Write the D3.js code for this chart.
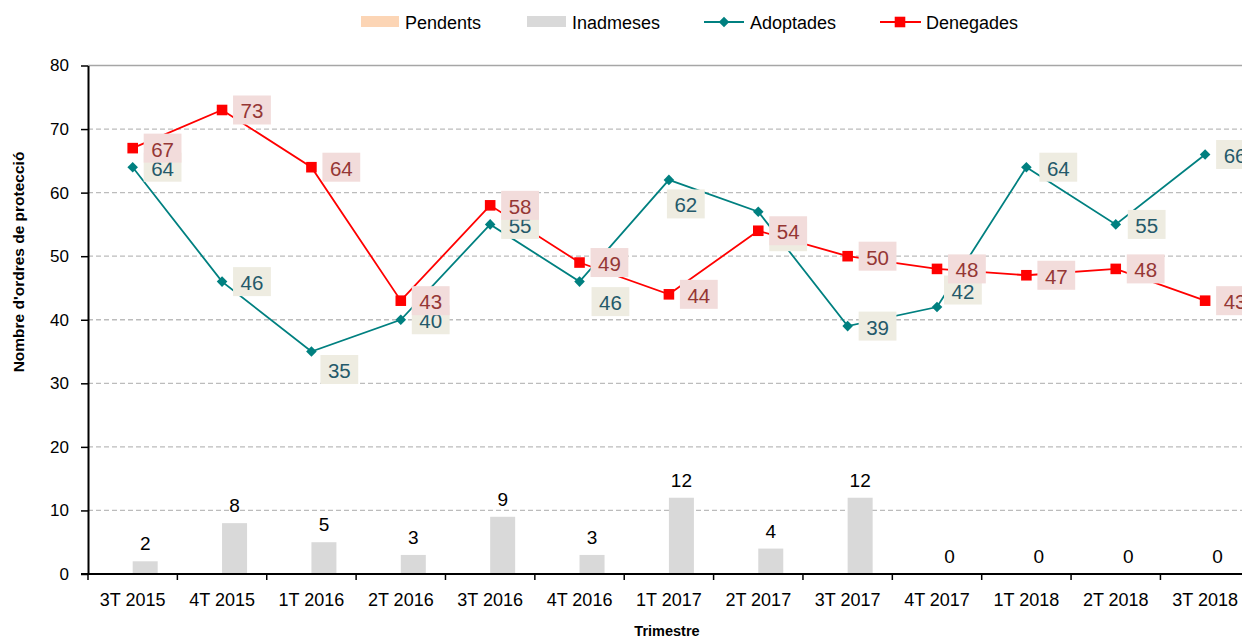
<!DOCTYPE html>
<html>
<head>
<meta charset="utf-8">
<script src="https://cdn.jsdelivr.net/npm/d3@7"></script>
<style>
  body { margin: 0; background: #fff; }
  svg { display: block; font-family: "Liberation Sans", Arial, sans-serif; }
</style>
</head>
<body>
<div id="chart"></div>
<script>
const quarters = ["3T 2015", "4T 2015", "1T 2016", "2T 2016", "3T 2016", "4T 2016",
  "1T 2017", "2T 2017", "3T 2017", "4T 2017", "1T 2018", "2T 2018", "3T 2018"];
const pendents = [0, 0, 0, 0, 0, 0, 0, 0, 0, 0, 0, 0, 0];
const inadmeses = [2, 8, 5, 3, 9, 3, 12, 4, 12, 0, 0, 0, 0];
const adoptades = [64, 46, 35, 40, 55, 46, 62, 57, 39, 42, 64, 55, 66];
const denegades = [67, 73, 64, 43, 58, 49, 44, 54, 50, 48, 47, 48, 43];
const yTicks = [0, 10, 20, 30, 40, 50, 60, 70, 80];

const W = 1242, H = 640;
const left = 88, step = 89.37;

const svg = d3.select("#chart").append("svg")
  .attr("width", W).attr("height", H);

const x = d3.scaleBand()
  .domain(quarters)
  .range([left, left + step * quarters.length])
  .paddingInner(0).paddingOuter(0);

const y = d3.scaleLinear().domain([0, 80]).range([574, 65.5]);

const sub = d3.scaleBand().domain(["Pendents", "Inadmeses"]).range([-25, 25]);

// gridlines
svg.append("g").selectAll("line")
  .data(yTicks.filter(t => t > 0))
  .enter().append("line")
  .attr("x1", left).attr("x2", W)
  .attr("y1", d => y(d)).attr("y2", d => y(d))
  .attr("stroke", d => d === 80 ? "#a6a6a6" : "#bcbcbc")
  .attr("stroke-width", 1.3)
  .attr("stroke-dasharray", d => d === 80 ? null : "5,3");

// bars
const bars = svg.append("g");
bars.selectAll("rect.pend")
  .data(quarters)
  .enter().append("rect")
  .attr("class", "pend")
  .attr("x", (d) => x(d) + x.bandwidth() / 2 + sub("Pendents"))
  .attr("width", sub.bandwidth())
  .attr("y", (d, i) => y(pendents[i]))
  .attr("height", (d, i) => y(0) - y(pendents[i]))
  .attr("fill", "#fcd5b5");

bars.selectAll("rect.inad")
  .data(quarters)
  .enter().append("rect")
  .attr("class", "inad")
  .attr("x", (d) => x(d) + x.bandwidth() / 2 + sub("Inadmeses"))
  .attr("width", sub.bandwidth())
  .attr("y", (d, i) => y(inadmeses[i]))
  .attr("height", (d, i) => y(0) - y(inadmeses[i]))
  .attr("fill", "#d9d9d9");

bars.selectAll("text.inad")
  .data(quarters)
  .enter().append("text")
  .attr("x", (d) => x(d) + x.bandwidth() / 2 + sub("Inadmeses") + sub.bandwidth() / 2)
  .attr("y", (d, i) => y(inadmeses[i]) - 11)
  .attr("text-anchor", "middle")
  .attr("font-size", 19)
  .attr("fill", "#000")
  .text((d, i) => inadmeses[i]);

// axes
const yAxis = svg.append("g")
  .attr("transform", `translate(${left},0)`)
  .call(d3.axisLeft(y).tickValues(yTicks).tickSizeInner(7).tickSizeOuter(0).tickPadding(12));
yAxis.select(".domain").attr("stroke", "#000").attr("stroke-width", 2);
yAxis.selectAll(".tick line").attr("stroke", "#000").attr("stroke-width", 1.5);
yAxis.selectAll(".tick text").attr("font-size", 17).attr("font-family", "Liberation Sans, Arial").attr("fill", "#000");

const xAxis = svg.append("g")
  .attr("transform", `translate(0,${y(0)})`)
  .call(d3.axisBottom(x).tickSize(0).tickPadding(19));
xAxis.select(".domain").remove();
xAxis.selectAll(".tick text").attr("font-size", 18).attr("font-family", "Liberation Sans, Arial").attr("fill", "#000");

svg.append("line")
  .attr("x1", left - 7).attr("x2", W)
  .attr("y1", y(0)).attr("y2", y(0))
  .attr("stroke", "#000").attr("stroke-width", 2);

const bounds = quarters.map(q => x(q)).concat([x.range()[1]]);
svg.append("g").selectAll("line")
  .data(bounds)
  .enter().append("line")
  .attr("x1", d => d).attr("x2", d => d)
  .attr("y1", y(0)).attr("y2", y(0) + 6)
  .attr("stroke", "#000").attr("stroke-width", 1.5);

// axis titles
svg.append("text")
  .attr("transform", "translate(18,262) rotate(-90)")
  .attr("text-anchor", "middle")
  .attr("dominant-baseline", "central")
  .attr("font-size", 15.5).attr("font-weight", "bold")
  .text("Nombre d'ordres de protecció");

svg.append("text")
  .attr("x", 667).attr("y", 636)
  .attr("text-anchor", "middle")
  .attr("font-size", 14.5).attr("font-weight", "bold")
  .text("Trimestre");

// lines
const cx = q => x(q) + x.bandwidth() / 2;
const line = d3.line().x(d => cx(d.q)).y(d => y(d.v));
const adoptPts = quarters.map((q, i) => ({ q, v: adoptades[i] }));
const denegPts = quarters.map((q, i) => ({ q, v: denegades[i] }));

svg.append("path").datum(adoptPts)
  .attr("d", line).attr("fill", "none")
  .attr("stroke", "#008080").attr("stroke-width", 1.8);
svg.append("path").datum(denegPts)
  .attr("d", line).attr("fill", "none")
  .attr("stroke", "#ff0000").attr("stroke-width", 1.8);

const diamond = d3.symbol().type(d3.symbolSquare).size(56);
const square = d3.symbol().type(d3.symbolSquare).size(112);

svg.append("g").selectAll("path")
  .data(adoptPts).enter().append("path")
  .attr("d", diamond)
  .attr("transform", d => `translate(${cx(d.q)},${y(d.v)}) rotate(45)`)
  .attr("fill", "#008080");

svg.append("g").selectAll("path")
  .data(denegPts).enter().append("path")
  .attr("d", square)
  .attr("transform", d => `translate(${cx(d.q)},${y(d.v)})`)
  .attr("fill", "#ff0000");

// data labels (boxed)
const adoptShift = [[11, 0], [11, 0], [9, 18], [11, 0], [11, 0], [12, 20], [-2, 24],
  [11, 25], [11, 0], [7, -17], [13, 0], [12, 0], [11, 0]];
const denegShift = quarters.map(() => [11, 0]);

function boxedLabels(pts, shift, bg, fg) {
  const g = svg.append("g");
  pts.forEach((d, i) => {
    const lg = g.append("g");
    const px = cx(d.q) + shift[i][0];
    const py = y(d.v) + shift[i][1];
    const rect = lg.append("rect").attr("fill", bg);
    const t = lg.append("text")
      .attr("font-size", 20.5)
      .attr("fill", fg)
      .attr("dominant-baseline", "central")
      .text(d.v);
    const tw = t.node().getComputedTextLength();
    const bw = tw + 15, bh = 29;
    rect.attr("x", px).attr("y", py - bh / 2).attr("width", bw).attr("height", bh);
    t.attr("x", px + 7.5).attr("y", py + 1);
  });
}
boxedLabels(adoptPts, adoptShift, "#eeece1", "#24596a");
boxedLabels(denegPts, denegShift, "#f2dcdb", "#953735");

// legend
const leg = svg.append("g").attr("font-size", 18);
leg.append("rect").attr("x", 361).attr("y", 16).attr("width", 38).attr("height", 11).attr("fill", "#fcd5b5");
leg.append("text").attr("x", 405).attr("y", 28.5).text("Pendents");
leg.append("rect").attr("x", 527).attr("y", 16).attr("width", 39).attr("height", 11).attr("fill", "#d9d9d9");
leg.append("text").attr("x", 572).attr("y", 28.5).text("Inadmeses");
leg.append("line").attr("x1", 704).attr("x2", 744).attr("y1", 22).attr("y2", 22)
  .attr("stroke", "#008080").attr("stroke-width", 1.8);
leg.append("path").attr("d", diamond).attr("transform", "translate(724,22) rotate(45)").attr("fill", "#008080");
leg.append("text").attr("x", 750).attr("y", 28.5).text("Adoptades");
leg.append("line").attr("x1", 880).attr("x2", 921).attr("y1", 22).attr("y2", 22)
  .attr("stroke", "#ff0000").attr("stroke-width", 1.8);
leg.append("path").attr("d", square).attr("transform", "translate(900,22)").attr("fill", "#ff0000");
leg.append("text").attr("x", 926).attr("y", 28.5).text("Denegades");
</script>
</body>
</html>
